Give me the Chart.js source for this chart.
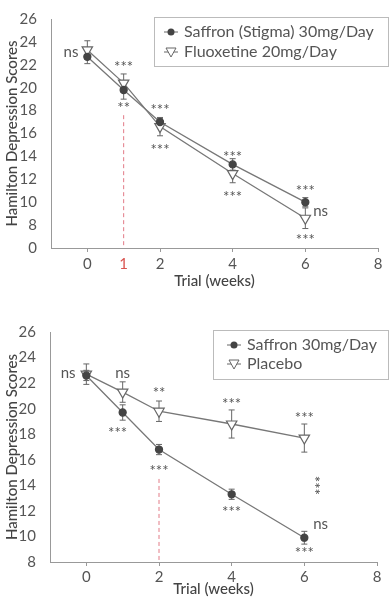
<!DOCTYPE html>
<html>
<head>
<meta charset="utf-8">
<script src="https://cdn.jsdelivr.net/npm/chart.js@4/dist/chart.umd.min.js"></script>
<style>
    html, body { margin: 0; padding: 0; background: #fff; }
    .box { position: relative; width: 391px; }
</style>
</head>
<body>
<div class="box" style="height:300px"><canvas id="chartTop"></canvas></div>
<div class="box" style="height:301px"><canvas id="chartBottom"></canvas></div>

<script>
// settimane di misura
const weeks = [0, 1, 2, 4, 6];
const xTicksTop = [0, 1, 2, 4, 6, 8];
const xTicksBottom = [0, 2, 4, 6, 8];

// grafico 1: zafferano vs fluoxetina
const saffronTop = [22.7, 19.8, 17.0, 13.3, 10.0];
const saffronTopErr = [0.6, 0.8, 0.3, 0.5, 0.4];
const fluoxetine = [23.3, 20.4, 16.6, 12.5, 8.6];
const fluoxetineErr = [0.8, 0.8, 0.8, 0.8, 0.9];
const yTicksTop = [6, 8, 10, 12, 14, 16, 18, 20, 22, 24, 26]; // 6 = asse spezzato, etichetta "0"

// grafico 2: zafferano vs placebo
const saffronBottom = [22.6, 19.7, 16.8, 13.3, 9.9];
const saffronBottomErr = [0.4, 0.6, 0.4, 0.4, 0.5];
const placebo = [22.7, 21.3, 19.8, 18.8, 17.7];
const placeboErr = [0.8, 0.8, 0.8, 1.1, 1.1];
const yTicksBottom = [8, 10, 12, 14, 16, 18, 20, 22, 24, 26];

// significativita'
const notesTop = [
    { x: -0.45, y: 23.1, text: 'ns' },
    { x: 1, y: 22.1, text: '***' },
    { x: 1, y: 18.6, text: '**' },
    { x: 2, y: 18.4, text: '***' },
    { x: 2, y: 14.9, text: '***' },
    { x: 4, y: 14.3, text: '***' },
    { x: 4, y: 10.8, text: '***' },
    { x: 6, y: 11.35, text: '***' },
    { x: 6.42, y: 9.25, text: 'ns' },
    { x: 6, y: 7.0, text: '***' }
];
const notesBottom = [
    { x: -0.5, y: 22.8, text: 'ns' },
    { x: 1, y: 22.8, text: 'ns' },
    { x: 0.86, y: 18.4, text: '***' },
    { x: 2, y: 21.5, text: '**' },
    { x: 2, y: 15.4, text: '***' },
    { x: 4, y: 20.7, text: '***' },
    { x: 4, y: 12.2, text: '***' },
    { x: 6, y: 19.6, text: '***' },
    { x: 6.15, y: 14.0, text: '***', vertical: true },
    { x: 6.45, y: 10.95, text: 'ns' },
    { x: 6, y: 9.0, text: '***' }
];

const FONT = 'Lato, "Open Sans", sans-serif';
const TEXT = '#555';

function pts(values) {
    return weeks.map((w, i) => ({ x: w, y: values[i] }));
}

const extrasPlugin = {
    id: 'extras',
    beforeDatasetsDraw(chart, args, opts) {
        const ctx = chart.ctx;
        const xs = chart.scales.x, ys = chart.scales.y;

        //linea tratteggiata rossa
        const px = xs.getPixelForValue(opts.marker.x);
        ctx.save();
        ctx.strokeStyle = '#e27a86';
        ctx.lineWidth = 1;
        ctx.setLineDash([4, 3]);
        ctx.beginPath();
        ctx.moveTo(px, ys.getPixelForValue(opts.marker.from));
        ctx.lineTo(px, ys.getPixelForValue(ys.min));
        ctx.stroke();
        ctx.restore();

        //barre di errore
        ctx.save();
        ctx.strokeStyle = '#666';
        ctx.lineWidth = 1;
        chart.data.datasets.forEach(ds => {
            ds.data.forEach((p, i) => {
                const e = ds.errors[i];
                const x = xs.getPixelForValue(p.x);
                const y1 = ys.getPixelForValue(p.y + e);
                const y2 = ys.getPixelForValue(p.y - e);
                ctx.beginPath();
                ctx.moveTo(x, y1); ctx.lineTo(x, y2);
                ctx.moveTo(x - 3, y1); ctx.lineTo(x + 3, y1);
                ctx.moveTo(x - 3, y2); ctx.lineTo(x + 3, y2);
                ctx.stroke();
            });
        });
        ctx.restore();
    },
    afterDraw(chart, args, opts) {
        const ctx = chart.ctx;
        const xs = chart.scales.x, ys = chart.scales.y;

        //annotazioni
        ctx.save();
        ctx.fillStyle = TEXT;
        ctx.textAlign = 'center';
        ctx.textBaseline = 'middle';
        ctx.font = '15px ' + FONT;
        opts.notes.forEach(n => {
            const x = xs.getPixelForValue(n.x);
            const y = ys.getPixelForValue(n.y);
            const star = n.text.indexOf('*') === 0;
            if (n.vertical) {
                ctx.save();
                ctx.translate(x, y);
                ctx.rotate(Math.PI / 2);
                ctx.fillText(n.text, 0, -4);
                ctx.restore();
            } else {
                ctx.fillText(n.text, x, star ? y + 4 : y);
            }
        });
        ctx.restore();

        //legenda con bordo
        const lg = opts.legend;
        ctx.save();
        ctx.strokeStyle = '#bbb';
        ctx.lineWidth = 1;
        ctx.strokeRect(lg.left + 0.5, lg.top + 0.5, lg.width, lg.height);
        ctx.font = '16px ' + FONT;
        ctx.textAlign = 'left';
        ctx.textBaseline = 'middle';
        chart.data.datasets.forEach((ds, i) => {
            const y = lg.top + lg.rowStart + i * lg.rowGap;
            const mx = lg.left + lg.markerX;
            ctx.strokeStyle = '#666';
            ctx.beginPath();
            ctx.moveTo(mx - 7, y); ctx.lineTo(mx + 7, y);
            ctx.stroke();
            if (ds.pointStyle === 'circle') {
                ctx.fillStyle = '#444';
                ctx.beginPath();
                ctx.arc(mx, y, 3.5, 0, Math.PI * 2);
                ctx.fill();
            } else {
                ctx.fillStyle = '#fff';
                ctx.beginPath();
                ctx.moveTo(mx - 5, y - 4);
                ctx.lineTo(mx + 5, y - 4);
                ctx.lineTo(mx, y + 5);
                ctx.closePath();
                ctx.fill();
                ctx.stroke();
            }
            ctx.fillStyle = TEXT;
            ctx.fillText(ds.label, lg.left + lg.textX, y);
        });
        ctx.restore();
    }
};

function buildChart(canvasId, cfg) {
    const datasets = [
        {
            label: cfg.names[0],
            data: pts(cfg.first),
            errors: cfg.firstErr,
            borderColor: '#777',
            borderWidth: 1.3,
            pointStyle: 'circle',
            pointRadius: 3.5,
            pointBackgroundColor: '#444',
            pointBorderColor: '#444',
            tension: 0
        },
        {
            label: cfg.names[1],
            data: pts(cfg.second),
            errors: cfg.secondErr,
            borderColor: '#777',
            borderWidth: 1.3,
            pointStyle: 'triangle',
            rotation: 180,
            pointRadius: 6,
            pointBackgroundColor: '#fff',
            pointBorderColor: '#666',
            pointBorderWidth: 1.2,
            tension: 0
        }
    ];

    return new Chart(document.getElementById(canvasId).getContext('2d'), {
        type: 'line',
        data: { datasets: datasets },
        options: {
            responsive: true,
            maintainAspectRatio: false,
            animation: false,
            events: [],
            layout: { padding: { top: cfg.top, right: cfg.right, left: 0, bottom: 0 } },
            plugins: {
                legend: { display: false },
                tooltip: { enabled: false },
                extras: { marker: cfg.marker, notes: cfg.notes, legend: cfg.legend }
            },
            scales: {
                x: {
                    type: 'linear',
                    min: -1,
                    max: 8,
                    afterBuildTicks: s => { s.ticks = cfg.xTicks.map(v => ({ value: v })); },
                    afterFit: s => { s.height = cfg.xHeight; },
                    border: { display: true, color: '#999', width: 1 },
                    grid: {
                        drawOnChartArea: false,
                        drawTicks: true,
                        tickLength: 4,
                        color: c => (c.tick && c.tick.value === cfg.marker.x && cfg.redTick) ? 'rgba(0,0,0,0)' : '#999'
                    },
                    ticks: {
                        padding: cfg.xTickPad,
                        maxRotation: 0,
                        font: { family: FONT, size: 15 },
                        color: c => (c.tick.value === cfg.marker.x && cfg.redTick) ? '#d9534f' : TEXT
                    },
                    title: {
                        display: true,
                        text: 'Trial (weeks)',
                        color: '#444',
                        font: { family: FONT, size: 15, weight: '500' },
                        padding: { top: 0, bottom: cfg.titlePad }
                    }
                },
                y: {
                    min: cfg.yTicks[0],
                    max: cfg.yTicks[cfg.yTicks.length - 1],
                    afterBuildTicks: s => { s.ticks = cfg.yTicks.map(v => ({ value: v })); },
                    afterFit: s => { s.width = cfg.yWidth; },
                    border: { display: true, color: '#999', width: 1 },
                    grid: { display: false },
                    ticks: {
                        padding: 6,
                        font: { family: FONT, size: 15 },
                        color: TEXT,
                        callback: v => (cfg.brokenAt === v ? '0' : v)
                    },
                    title: {
                        display: true,
                        text: 'Hamilton Depression Scores',
                        color: '#444',
                        font: { family: FONT, size: 15, weight: '500' },
                        padding: { top: 3, bottom: 0 }
                    }
                }
            }
        },
        plugins: [extrasPlugin]
    });
}

document.addEventListener('DOMContentLoaded', () => {
    buildChart('chartTop', {
        names: ['Saffron (Stigma) 30mg/Day', 'Fluoxetine 20mg/Day'],
        first: saffronTop, firstErr: saffronTopErr,
        second: fluoxetine, secondErr: fluoxetineErr,
        xTicks: xTicksTop,
        yTicks: yTicksTop, brokenAt: 6,
        top: 19, right: 13, yWidth: 51, xHeight: 52, xTickPad: 3, titlePad: 10,
        redTick: true,
        marker: { x: 1, from: 17.6 },
        notes: notesTop,
        legend: { left: 154, top: 17, width: 234, height: 49, rowStart: 15, rowGap: 20, markerX: 17, textX: 30 }
    });

    buildChart('chartBottom', {
        names: ['Saffron 30mg/Day', 'Placebo'],
        first: saffronBottom, firstErr: saffronBottomErr,
        second: placebo, secondErr: placeboErr,
        xTicks: xTicksBottom,
        yTicks: yTicksBottom, brokenAt: null,
        top: 32, right: 14, yWidth: 50, xHeight: 39, xTickPad: 2, titlePad: 3,
        redTick: false,
        marker: { x: 2, from: 14.5 },
        notes: notesBottom,
        legend: { left: 213, top: 330 - 300, width: 175, height: 49, rowStart: 15, rowGap: 19, markerX: 21, textX: 34 }
    });
});
</script>
</body>
</html>
